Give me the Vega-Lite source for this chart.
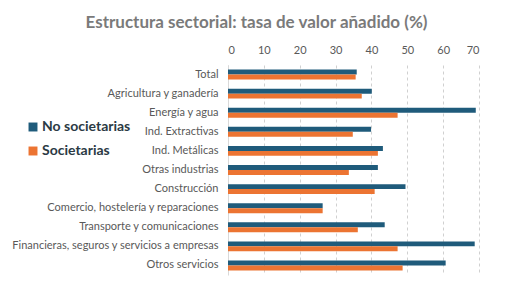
{
  "$schema": "https://vega.github.io/schema/vega-lite/v6.json",
  "width": 251,
  "height": 210,
  "autosize": {"type": "none"},
  "padding": {"left": 228, "top": 65, "right": 34, "bottom": 25},
  "background": "white",
  "title": {
    "text": "Estructura sectorial: tasa de valor añadido (%)",
    "font": "Lato",
    "fontSize": 17,
    "fontWeight": "bold",
    "color": "#7a7a7a",
    "anchor": "middle",
    "dx": -97,
    "offset": 12
  },
  "data": {
    "values": [
      {"sector": "Total", "serie": "No societarias", "valor": 35.9},
      {"sector": "Total", "serie": "Societarias", "valor": 35.6},
      {"sector": "Agricultura y ganadería", "serie": "No societarias", "valor": 40.1},
      {"sector": "Agricultura y ganadería", "serie": "Societarias", "valor": 37.3},
      {"sector": "Energía y agua", "serie": "No societarias", "valor": 69.1},
      {"sector": "Energía y agua", "serie": "Societarias", "valor": 47.3},
      {"sector": "Ind. Extractivas", "serie": "No societarias", "valor": 39.9},
      {"sector": "Ind. Extractivas", "serie": "Societarias", "valor": 34.8},
      {"sector": "Ind. Metálicas", "serie": "No societarias", "valor": 43.2},
      {"sector": "Ind. Metálicas", "serie": "Societarias", "valor": 41.8},
      {"sector": "Otras industrias", "serie": "No societarias", "valor": 41.8},
      {"sector": "Otras industrias", "serie": "Societarias", "valor": 33.7},
      {"sector": "Construcción", "serie": "No societarias", "valor": 49.5},
      {"sector": "Construcción", "serie": "Societarias", "valor": 40.9},
      {"sector": "Comercio, hostelería y reparaciones", "serie": "No societarias", "valor": 26.4},
      {"sector": "Comercio, hostelería y reparaciones", "serie": "Societarias", "valor": 26.4},
      {"sector": "Transporte y comunicaciones", "serie": "No societarias", "valor": 43.7},
      {"sector": "Transporte y comunicaciones", "serie": "Societarias", "valor": 36.2},
      {"sector": "Financieras, seguros y servicios a empresas", "serie": "No societarias", "valor": 68.8},
      {"sector": "Financieras, seguros y servicios a empresas", "serie": "Societarias", "valor": 47.3},
      {"sector": "Otros servicios", "serie": "No societarias", "valor": 60.7},
      {"sector": "Otros servicios", "serie": "Societarias", "valor": 48.7}
    ]
  },
  "mark": {"type": "bar"},
  "encoding": {
    "y": {
      "field": "sector",
      "type": "nominal",
      "sort": null,
      "scale": {"paddingInner": 0.48, "paddingOuter": 0.24},
      "axis": {
        "title": null,
        "labelFont": "Lato",
        "labelFontSize": 11,
        "labelColor": "#595959",
        "labelPadding": 10,
        "labelLimit": 320,
        "ticks": false,
        "domain": true,
        "domainColor": "#d9d9d9",
        "grid": false
      }
    },
    "yOffset": {
      "field": "serie",
      "type": "nominal",
      "sort": ["No societarias", "Societarias"],
      "scale": {"paddingInner": 0, "paddingOuter": 0}
    },
    "x": {
      "field": "valor",
      "type": "quantitative",
      "scale": {"domain": [0, 70], "nice": false},
      "axis": {
        "orient": "top",
        "title": null,
        "values": [0, 10, 20, 30, 40, 50, 60, 70],
        "labelFont": "Lato",
        "labelFontSize": 11,
        "labelColor": "#595959",
        "labelPadding": 10,
        "ticks": false,
        "domain": false,
        "grid": true,
        "gridColor": "#d0d0d0",
        "gridDash": [3, 3]
      }
    },
    "color": {
      "field": "serie",
      "type": "nominal",
      "sort": ["No societarias", "Societarias"],
      "scale": {"domain": ["No societarias", "Societarias"], "range": ["#1f5b7b", "#ec7432"]},
      "legend": {
        "title": null,
        "orient": "none",
        "legendX": -202,
        "legendY": 55,
        "symbolType": "square",
        "symbolSize": 80,
        "symbolStrokeWidth": 0,
        "labelFont": "Lato",
        "labelFontSize": 14,
        "labelFontWeight": "bold",
        "labelColor": "#2b3a44",
        "rowPadding": 10,
        "labelOffset": 2
      }
    }
  },
  "config": {"view": {"stroke": null}}
}
